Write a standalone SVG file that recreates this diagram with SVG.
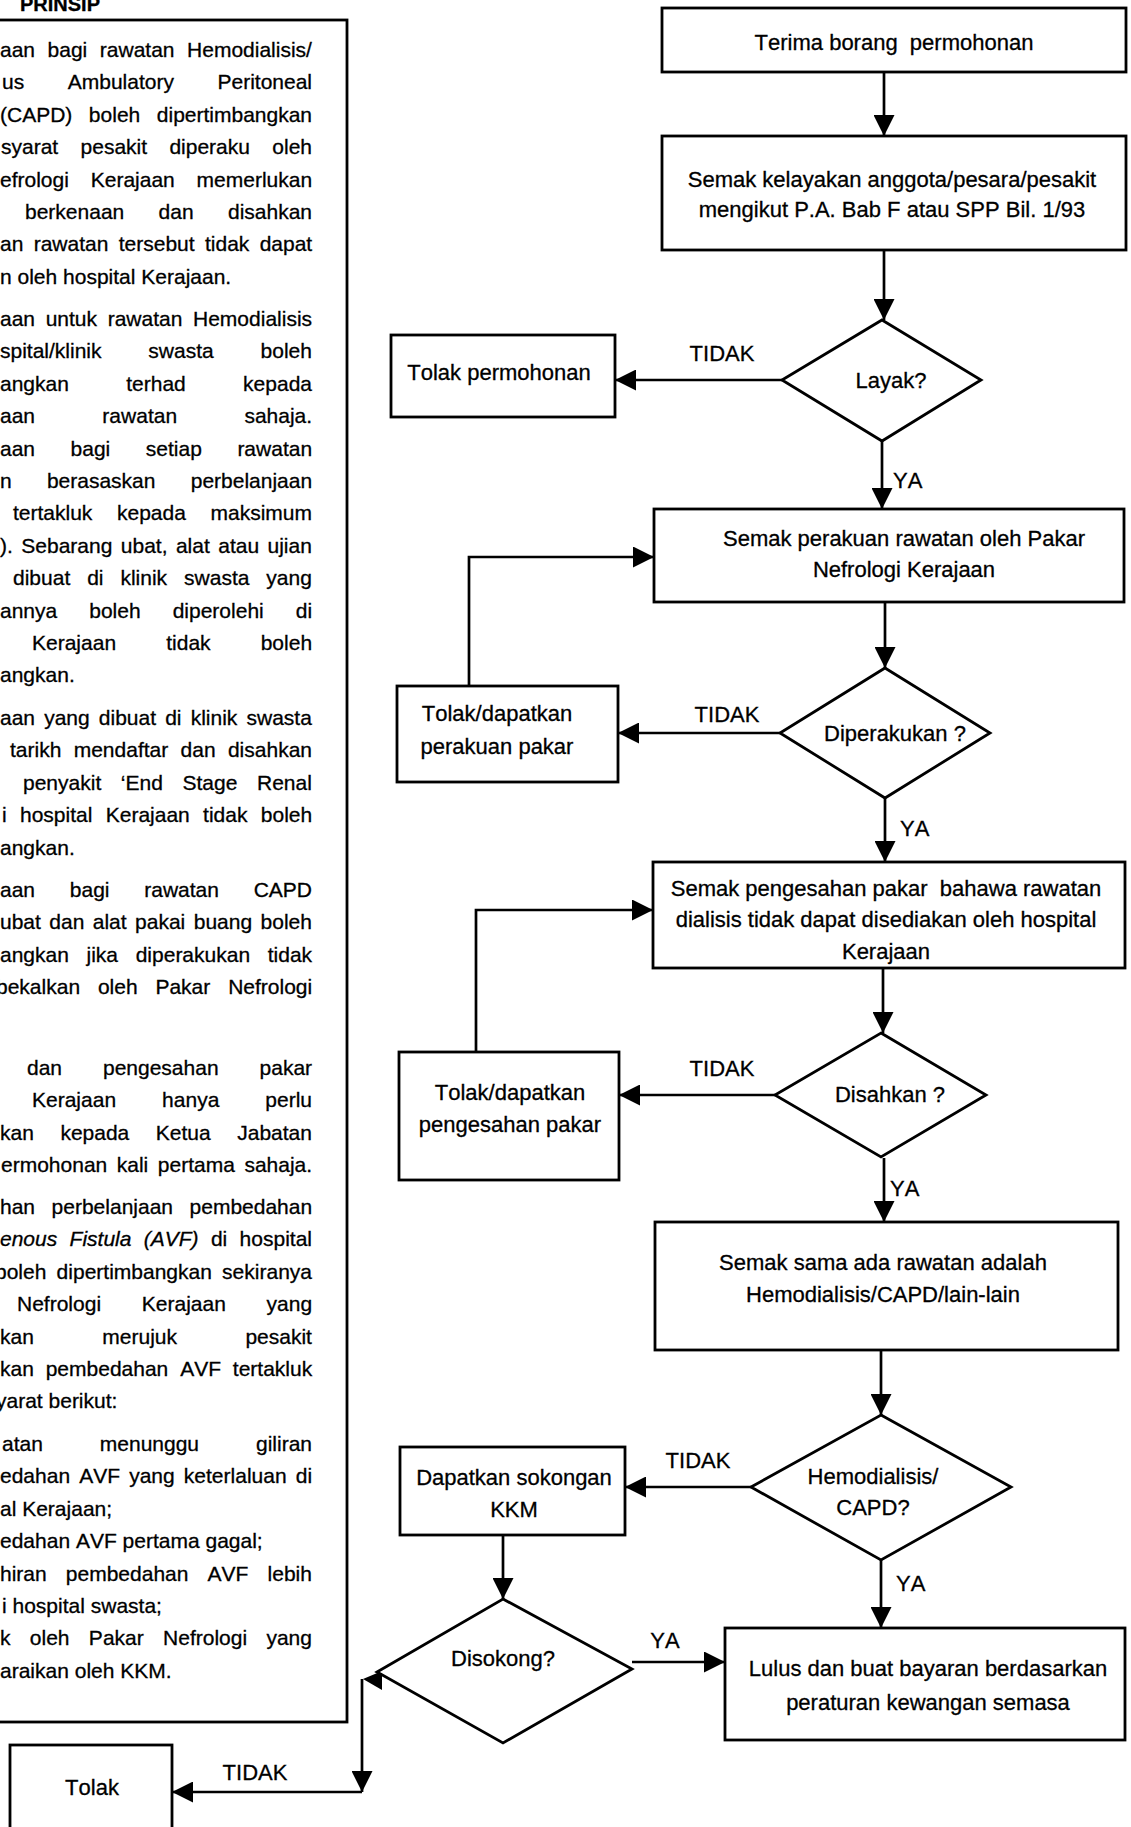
<svg xmlns="http://www.w3.org/2000/svg" width="1131" height="1827" viewBox="0 0 1131 1827">
  <defs>
    <style>
      text { font-family: "Liberation Sans", Arial, sans-serif; fill: #000; stroke: #000; stroke-width: 0.3px; font-kerning: none; }
      .p { font-size: 21px; }
      .n { font-size: 22px; text-anchor: middle; white-space: pre; }
      .lb { font-size: 22px; }
      .lbc { font-size: 22px; text-anchor: middle; }
      .box { fill: #fff; stroke: #000; stroke-width: 2.8; }
      .ln { fill: none; stroke: #000; stroke-width: 2.7; }
      .arw { marker-end: url(#ah); }
    </style>
    <marker id="ah" markerUnits="userSpaceOnUse" markerWidth="21" markerHeight="21" viewBox="0 0 20 20" refX="20" refY="10" orient="auto">
      <path d="M0,0 L20,10 L0,20 z" fill="#000"/>
    </marker>
  </defs>
  <rect width="1131" height="1827" fill="#fff"/>

  <!-- Left column: principles panel -->
  <g id="prinsip">
    <text x="20" y="11" style="font-size:20px;font-weight:bold">PRINSIP</text>
    <rect class="box" x="-10" y="20" width="357" height="1702"/>
    <g class="p">
      <text x="0" y="57" style="word-spacing:6.7px">aan bagi rawatan Hemodialisis/</text>
      <text x="2" y="89.4" style="word-spacing:37.7px">us Ambulatory Peritoneal</text>
      <text x="0" y="121.8" style="word-spacing:10.7px">(CAPD) boleh dipertimbangkan</text>
      <text x="1" y="154.2" style="word-spacing:16.5px">syarat pesakit diperaku oleh</text>
      <text x="0" y="186.6" style="word-spacing:16px">efrologi Kerajaan memerlukan</text>
      <text x="25" y="219" style="word-spacing:28.5px">berkenaan dan disahkan</text>
      <text x="0" y="251.4" style="word-spacing:4.5px">an rawatan tersebut tidak dapat</text>
      <text x="0" y="283.8">n oleh hospital Kerajaan.</text>

      <text x="0" y="326" style="word-spacing:4.8px">aan untuk rawatan Hemodialisis</text>
      <text x="0" y="358.4" style="word-spacing:41px">spital/klinik swasta boleh</text>
      <text x="0" y="390.8" style="word-spacing:51.5px">angkan terhad kepada</text>
      <text x="0" y="423.2" style="word-spacing:61.5px">aan rawatan sahaja.</text>
      <text x="0" y="455.6" style="word-spacing:29.7px">aan bagi setiap rawatan</text>
      <text x="0" y="488" style="word-spacing:29.4px">n berasaskan perbelanjaan</text>
      <text x="13" y="520.4" style="word-spacing:18.8px">tertakluk kepada maksimum</text>
      <text x="0" y="552.8" style="word-spacing:2.6px">). Sebarang ubat, alat atau ujian</text>
      <text x="13" y="585.2" style="word-spacing:11.1px">dibuat di klinik swasta yang</text>
      <text x="0" y="617.6" style="word-spacing:26.2px">annya boleh diperolehi di</text>
      <text x="32" y="650" style="word-spacing:44.3px">Kerajaan tidak boleh</text>
      <text x="0" y="682.4">angkan.</text>

      <text x="0" y="725" style="word-spacing:3.3px">aan yang dibuat di klinik swasta</text>
      <text x="10" y="757.4" style="word-spacing:6.5px">tarikh mendaftar dan disahkan</text>
      <text x="23" y="789.8" style="word-spacing:13.8px">penyakit ‘End Stage Renal</text>
      <text x="2" y="822.2" style="word-spacing:7.5px">i hospital Kerajaan tidak boleh</text>
      <text x="0" y="854.6">angkan.</text>

      <text x="0" y="897" style="word-spacing:28.9px">aan bagi rawatan CAPD</text>
      <text x="0" y="929.4" style="word-spacing:2.6px">ubat dan alat pakai buang boleh</text>
      <text x="0" y="961.8" style="word-spacing:11.8px">angkan jika diperakukan tidak</text>
      <text x="-4" y="994.2" style="word-spacing:12px">bekalkan oleh Pakar Nefrologi</text>

      <text x="27" y="1075" style="word-spacing:35.1px">dan pengesahan pakar</text>
      <text x="32" y="1107.4" style="word-spacing:40.2px">Kerajaan hanya perlu</text>
      <text x="0" y="1139.8" style="word-spacing:20.7px">kan kepada Ketua Jabatan</text>
      <text x="1" y="1172.2" style="word-spacing:3.7px">ermohonan kali pertama sahaja.</text>

      <text x="0" y="1214" style="word-spacing:10.7px">han perbelanjaan pembedahan</text>
      <text x="0" y="1246.4" style="word-spacing:6.5px"><tspan font-style="italic">enous Fistula (AVF)</tspan> di hospital</text>
      <text x="-5" y="1278.8" style="word-spacing:4.4px">boleh dipertimbangkan sekiranya</text>
      <text x="17" y="1311.2" style="word-spacing:34.9px">Nefrologi Kerajaan yang</text>
      <text x="0" y="1343.6" style="word-spacing:62.6px">kan merujuk pesakit</text>
      <text x="0" y="1376" style="word-spacing:6px">kan pembedahan AVF tertakluk</text>
      <text x="-4" y="1408.4">yarat berikut:</text>

      <text x="2" y="1451" style="word-spacing:51.1px">atan menunggu giliran</text>
      <text x="0" y="1483.4" style="word-spacing:3.3px">edahan AVF yang keterlaluan di</text>
      <text x="0" y="1515.8">al Kerajaan;</text>
      <text x="0" y="1548.2">edahan AVF pertama gagal;</text>
      <text x="0" y="1580.6" style="word-spacing:13.3px">hiran pembedahan AVF lebih</text>
      <text x="2" y="1613">i hospital swasta;</text>
      <text x="0" y="1645.4" style="word-spacing:13.5px">k oleh Pakar Nefrologi yang</text>
      <text x="0" y="1677.8">araikan oleh KKM.</text>
    </g>
  </g>

  <!-- Connectors -->
  <g id="connectors">
    <line class="ln arw" x1="884" y1="72" x2="884" y2="136"/>
    <line class="ln arw" x1="884" y1="250" x2="884" y2="320"/>
    <line class="ln arw" x1="782" y1="380" x2="615" y2="380"/>
    <line class="ln arw" x1="882" y1="441" x2="882" y2="509"/>
    <line class="ln arw" x1="885" y1="602" x2="885" y2="668"/>
    <line class="ln arw" x1="780" y1="733" x2="618" y2="733"/>
    <polyline class="ln arw" points="469,686 469,557 654,557"/>
    <line class="ln arw" x1="885" y1="798" x2="885" y2="862"/>
    <line class="ln arw" x1="883" y1="968" x2="883" y2="1033"/>
    <line class="ln arw" x1="775" y1="1095" x2="619" y2="1095"/>
    <polyline class="ln arw" points="476,1052 476,910 653,910"/>
    <line class="ln arw" x1="884" y1="1158" x2="884" y2="1222"/>
    <line class="ln arw" x1="881" y1="1350" x2="881" y2="1415"/>
    <line class="ln arw" x1="751" y1="1487" x2="625" y2="1487"/>
    <line class="ln arw" x1="881" y1="1560" x2="881" y2="1628"/>
    <line class="ln arw" x1="503" y1="1535" x2="503" y2="1599"/>
    <line class="ln arw" x1="632" y1="1662" x2="725" y2="1662"/>
    <line class="ln arw" x1="362" y1="1679" x2="362" y2="1792"/>
    <line class="ln arw" x1="362" y1="1792" x2="172" y2="1792"/>
    <polygon points="363,1679 382,1671 382,1690" fill="#000"/>

    <text class="lbc" x="722" y="361">TIDAK</text>
    <text class="lb" x="893" y="488">YA</text>
    <text class="lbc" x="727" y="722">TIDAK</text>
    <text class="lb" x="900" y="836">YA</text>
    <text class="lbc" x="722" y="1076">TIDAK</text>
    <text class="lb" x="890" y="1196">YA</text>
    <text class="lbc" x="698" y="1468">TIDAK</text>
    <text class="lb" x="896" y="1591">YA</text>
    <text class="lbc" x="665" y="1648">YA</text>
    <text class="lbc" x="255" y="1780">TIDAK</text>
  </g>

  <!-- Flowchart nodes -->
  <g id="terima">
    <rect class="box" x="662" y="8" width="464" height="64"/>
    <text class="n" x="894" y="50">Terima borang  permohonan</text>
  </g>
  <g id="semak-kelayakan">
    <rect class="box" x="662" y="136" width="464" height="114"/>
    <text class="n" x="892" y="187">Semak kelayakan anggota/pesara/pesakit</text>
    <text class="n" x="892" y="217">mengikut P.A. Bab F atau SPP Bil. 1/93</text>
  </g>
  <g id="layak">
    <polygon class="box" points="882,320 981,380 882,441 782,380"/>
    <text class="n" x="891" y="388">Layak?</text>
  </g>
  <g id="tolak-permohonan">
    <rect class="box" x="391" y="335" width="224" height="82"/>
    <text class="n" x="499" y="380">Tolak permohonan</text>
  </g>
  <g id="semak-perakuan">
    <rect class="box" x="654" y="509" width="470" height="93"/>
    <text class="n" x="904" y="546">Semak perakuan rawatan oleh Pakar</text>
    <text class="n" x="904" y="577">Nefrologi Kerajaan</text>
  </g>
  <g id="diperakukan">
    <polygon class="box" points="885,668 990,733 885,798 780,733"/>
    <text class="n" x="895" y="741">Diperakukan ?</text>
  </g>
  <g id="tolak-perakuan">
    <rect class="box" x="397" y="686" width="221" height="96"/>
    <text class="n" x="497" y="721">Tolak/dapatkan</text>
    <text class="n" x="497" y="754">perakuan pakar</text>
  </g>
  <g id="semak-pengesahan">
    <rect class="box" x="653" y="862" width="472" height="106"/>
    <text class="n" x="886" y="896">Semak pengesahan pakar  bahawa rawatan</text>
    <text class="n" x="886" y="927">dialisis tidak dapat disediakan oleh hospital</text>
    <text class="n" x="886" y="959">Kerajaan</text>
  </g>
  <g id="disahkan">
    <polygon class="box" points="881,1033 986,1095 881,1157 775,1095"/>
    <text class="n" x="890" y="1102">Disahkan ?</text>
  </g>
  <g id="tolak-pengesahan">
    <rect class="box" x="399" y="1052" width="220" height="128"/>
    <text class="n" x="510" y="1100">Tolak/dapatkan</text>
    <text class="n" x="510" y="1132">pengesahan pakar</text>
  </g>
  <g id="semak-rawatan">
    <rect class="box" x="655" y="1222" width="463" height="128"/>
    <text class="n" x="883" y="1270">Semak sama ada rawatan adalah</text>
    <text class="n" x="883" y="1302">Hemodialisis/CAPD/lain-lain</text>
  </g>
  <g id="hemodialisis">
    <polygon class="box" points="881,1415 1011,1487 881,1560 751,1487"/>
    <text class="n" x="873" y="1484">Hemodialisis/</text>
    <text class="n" x="873" y="1515">CAPD?</text>
  </g>
  <g id="sokongan-kkm">
    <rect class="box" x="400" y="1447" width="225" height="88"/>
    <text class="n" x="514" y="1485">Dapatkan sokongan</text>
    <text class="n" x="514" y="1517">KKM</text>
  </g>
  <g id="disokong">
    <polygon class="box" points="503,1599 632,1669 503,1743 377,1672"/>
    <text class="n" x="503" y="1666">Disokong?</text>
  </g>
  <g id="lulus">
    <rect class="box" x="725" y="1628" width="400" height="112"/>
    <text class="n" x="928" y="1676">Lulus dan buat bayaran berdasarkan</text>
    <text class="n" x="928" y="1710">peraturan kewangan semasa</text>
  </g>
  <g id="tolak">
    <rect class="box" x="10" y="1745" width="162" height="120"/>
    <text class="n" x="92" y="1795">Tolak</text>
  </g>
</svg>
